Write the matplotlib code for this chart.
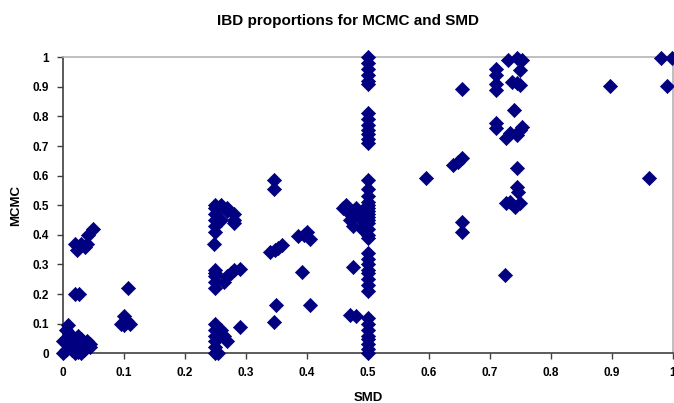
import matplotlib.pyplot as plt

plt.rcParams['font.family'] = ['Liberation Sans', 'DejaVu Sans']

# SMD / MCMC pairs, grouped by cluster
smd = [
    # near 0
    0.05, 0.042, 0.02, 0.03, 0.023, 0.037, 0.04,
    0.02, 0.026,
    0.107, 0.10, 0.095, 0.11, 0.105, 0.10,
    0.008, 0.005, 0.01, 0.0, 0.005, 0.01, 0.01, 0.015, 0.02, 0.02, 0.025,
    0.03, 0.03, 0.035, 0.04, 0.045, 0.045, 0.03, 0.0, 0.025, 0.015,
    # near 0.25
    0.25, 0.25, 0.25, 0.25, 0.25, 0.25, 0.26, 0.26, 0.27, 0.27, 0.28, 0.28, 0.28, 0.248,
    0.25, 0.25, 0.25, 0.25, 0.25, 0.265, 0.27, 0.275, 0.28, 0.29,
    0.25, 0.25, 0.25, 0.25, 0.25, 0.25, 0.255, 0.26, 0.265, 0.27, 0.29,
    # 0.35 - 0.41
    0.346, 0.346, 0.34, 0.348, 0.359, 0.353, 0.385, 0.395, 0.40, 0.405, 0.392,
    0.35, 0.347, 0.405,
    # near 0.5
    0.5, 0.5, 0.5, 0.5, 0.5, 0.5,
    0.5, 0.5, 0.5, 0.5, 0.5, 0.5, 0.5,
    0.5, 0.5, 0.5,
    0.5, 0.5, 0.5, 0.5, 0.5, 0.5, 0.5, 0.5, 0.5, 0.5, 0.5,
    0.5, 0.5, 0.5, 0.5, 0.5, 0.5, 0.5, 0.5,
    0.5, 0.5, 0.5, 0.5, 0.5, 0.5, 0.5, 0.5,
    0.46, 0.465, 0.47, 0.47, 0.475, 0.48, 0.485, 0.49, 0.49, 0.495,
    0.475, 0.47, 0.48,
    # 0.6 - 0.75
    0.595, 0.64, 0.654, 0.648, 0.654, 0.654, 0.654, 0.725,
    0.71, 0.71, 0.71, 0.71,
    0.744, 0.752, 0.73, 0.75, 0.744, 0.736, 0.75, 0.74,
    0.71, 0.71, 0.727, 0.733, 0.75, 0.752, 0.744,
    0.745, 0.744, 0.746, 0.727, 0.741, 0.75, 0.733,
    # 0.9 - 1
    0.896, 0.96, 0.98, 0.998, 0.99,
]
mcmc = [
    0.42, 0.40, 0.37, 0.37, 0.35, 0.36, 0.37,
    0.20, 0.20,
    0.22, 0.125, 0.10, 0.10, 0.11, 0.095,
    0.095, 0.08, 0.07, 0.0, 0.01, 0.02, 0.05, 0.04, 0.0, 0.03, 0.06,
    0.02, 0.05, 0.01, 0.04, 0.03, 0.02, 0.0, 0.04, 0.005, 0.01,
    0.41, 0.43, 0.45, 0.47, 0.49, 0.50, 0.50, 0.45, 0.49, 0.48, 0.47, 0.45, 0.44, 0.37,
    0.22, 0.24, 0.26, 0.27, 0.28, 0.24, 0.26, 0.27, 0.28, 0.285,
    0.0, 0.02, 0.04, 0.06, 0.08, 0.10, 0.0, 0.08, 0.06, 0.04, 0.09,
    0.585, 0.555, 0.343, 0.35, 0.366, 0.357, 0.395, 0.40, 0.41, 0.385, 0.276,
    0.163, 0.107, 0.163,
    1.0, 0.98, 0.96, 0.94, 0.92, 0.91,
    0.81, 0.79, 0.77, 0.755, 0.74, 0.725, 0.71,
    0.585, 0.555, 0.53,
    0.51, 0.50, 0.49, 0.48, 0.47, 0.46, 0.45, 0.44, 0.42, 0.40, 0.39,
    0.34, 0.32, 0.30, 0.28, 0.27, 0.25, 0.23, 0.21,
    0.12, 0.10, 0.08, 0.06, 0.05, 0.03, 0.015, 0.0,
    0.49, 0.50, 0.47, 0.45, 0.43, 0.49, 0.46, 0.42, 0.48, 0.44,
    0.293, 0.13, 0.125,
    0.591, 0.636, 0.659, 0.647, 0.892, 0.445, 0.411, 0.265,
    0.96, 0.94, 0.91, 0.89,
    0.997, 0.99, 0.99, 0.958, 0.912, 0.918, 0.906, 0.822,
    0.76, 0.777, 0.726, 0.743, 0.755, 0.766, 0.737,
    0.625, 0.563, 0.546, 0.507, 0.495, 0.507, 0.512,
    0.903, 0.593, 0.997, 0.997, 0.903,
]

ticks = [i / 10 for i in range(11)]
tick_labels = ['0', '0.1', '0.2', '0.3', '0.4', '0.5', '0.6', '0.7', '0.8', '0.9', '1']

fig = plt.figure(figsize=(6.74, 4.03), dpi=100)
ax = fig.add_axes([0.093, 0.1233, 0.9055, 0.7347])

ax.scatter(smd, mcmc, marker='D', s=52, color='#000080', edgecolors='#000080',
           linewidths=0.5, clip_on=False, zorder=3)

ax.set_xlim(0, 1)
ax.set_ylim(0, 1)
ax.set_xticks(ticks)
ax.set_xticklabels(tick_labels)
ax.set_yticks(ticks)
ax.set_yticklabels(tick_labels)

for side in ['left', 'bottom']:
    ax.spines[side].set_color('#404040')
    ax.spines[side].set_linewidth(1.2)
for side in ['top', 'right']:
    ax.spines[side].set_color('#b4b4b4')
    ax.spines[side].set_linewidth(1.2)

ax.tick_params(direction='out', length=4, width=1, color='#404040',
               labelsize=8.5, pad=6)
for lab in ax.get_xticklabels() + ax.get_yticklabels():
    lab.set_fontweight('bold')

ax.set_xlabel('SMD', fontsize=9.5, fontweight='bold', labelpad=9)
ax.set_ylabel('MCMC', fontsize=9.5, fontweight='bold', labelpad=7)
fig.text(0.516, 0.948, 'IBD proportions for MCMC and SMD', ha='center', va='center',
         fontsize=11, fontweight='bold')

fig.savefig('out.png', dpi=100)
